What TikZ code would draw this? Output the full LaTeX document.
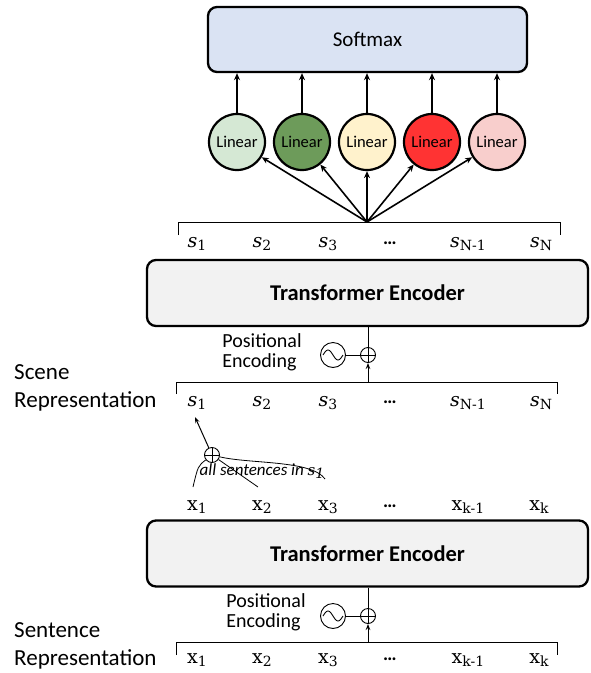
\documentclass[tikz,border=0pt]{standalone}
\usepackage{fontspec}
\setmainfont{Carlito}
\newfontfamily\symfont{DejaVu Serif}
\usetikzlibrary{arrows.meta}
\definecolor{smfill}{HTML}{DAE3F3}
\definecolor{encfill}{HTML}{F2F2F2}
\definecolor{cA}{HTML}{D5E8D4}
\definecolor{cB}{HTML}{6D9B5A}
\definecolor{cC}{HTML}{FFF2CC}
\definecolor{cD}{HTML}{FF3333}
\definecolor{cE}{HTML}{F8CECC}
\newcommand\symS[1]{{\symfont\itshape s}\raisebox{-0.35ex}{\fontsize{14}{14}\selectfont\symfont #1}}
\newcommand\symX[1]{{\symfont x}\raisebox{-0.35ex}{\fontsize{14}{14}\selectfont\symfont #1}}
\tikzset{
  bigbox/.style={draw, line width=2.3pt, rounded corners=9pt, inner sep=0pt},
  lin/.style={circle, draw, line width=2.2pt, minimum size=56pt, inner sep=0pt, font=\fontsize{16.5}{18}\selectfont},
  arr/.style={line width=1.6pt, -{Stealth[length=7pt,width=6pt]}},
  thinarr/.style={line width=1pt, -{Stealth[length=6pt,width=4.5pt]}},
  brk/.style={line width=0.9pt},
  lab/.style={font=\fontsize{19}{22}\selectfont, inner sep=0pt},
  side/.style={font=\fontsize{23}{28}\selectfont, inner sep=0pt, anchor=west, align=left},
  pe/.style={font=\fontsize{20}{20}\selectfont, inner sep=0pt, align=left},
  enc/.style={bigbox, fill=encfill, minimum width=441pt, minimum height=66pt, font=\fontsize{22.5}{24}\selectfont\bfseries},
  plus/.style={circle, draw, line width=0.9pt, minimum size=15pt, inner sep=0pt,
    path picture={\draw[line width=0.9pt] (path picture bounding box.north) -- (path picture bounding box.south)
      (path picture bounding box.west) -- (path picture bounding box.east);}},
  sine/.style={circle, draw, line width=0.9pt, minimum size=25pt, inner sep=0pt,
    path picture={\draw[line width=0.9pt, shift={(path picture bounding box.center)}]
      plot[domain=-10:10, samples=40, smooth] (\x, {5*sin(\x*18)});}},
}
\begin{document}
\begin{tikzpicture}[x=1pt, y=-1pt]
\useasboundingbox (0,0) rectangle (590,673);

% Softmax
\node[bigbox, fill=smfill, minimum width=319pt, minimum height=65pt, font=\fontsize{21}{24}\selectfont] (sm) at (367.5,39.5) {Softmax};

% Linear circles
\node[lin, fill=cA] (l1) at (237,142) {Linear};
\node[lin, fill=cB] (l2) at (302,142) {Linear};
\node[lin, fill=cC] (l3) at (367,142) {Linear};
\node[lin, fill=cD] (l4) at (432,142) {Linear};
\node[lin, fill=cE] (l5) at (497,142) {Linear};
\foreach \i in {1,...,5} {
  \draw[arr] (l\i.north) -- (l\i.north |- sm.south);
}

% top bracket and fan
\coordinate (fan) at (367,222);
\draw[brk] (178,235) -- (178,222) -- (560,222) -- (560,235);
\foreach \i in {1,...,5} {
  \draw[arr] (fan) -- (l\i);
}

% top s labels
\node[lab] (ta1) at (197,244) {\symS{1}};
\node[lab] (ta2) at (262,244) {\symS{2}};
\node[lab] (ta3) at (328,244) {\symS{3}};
\node[lab] (ta4) at (390,243) {\textbf{…}};
\node[lab] (ta5) at (468,244) {\symS{N-1}};
\node[lab] (ta6) at (541,244) {\symS{N}};

% Encoder 1
\node[enc] (enc1) at (367.5,293) {Transformer Encoder};

% Positional encoding 1
\node[pe] (pe1) at (262,352) {Positional\\Encoding};
\node[sine] (sn1) at (333,355) {};
\node[plus] (pl1) at (368,355) {};
\draw[line width=0.9pt] (sn1) -- (pl1);
\draw[line width=1pt] (pl1.north) -- (pl1.north |- enc1.south);
\coordinate (b2) at (368,382);
\draw[thinarr] (b2) -- (pl1.south);

% second bracket
\draw[brk] (176,394) -- (176,382) -- (557,382) -- (557,394);
\node[side] (scene) at (14,388) {Scene\\Representation};
\node[lab] (sb1) at (197,403) {\symS{1}};
\node[lab] (sb2) at (262,403) {\symS{2}};
\node[lab] (sb3) at (328,403) {\symS{3}};
\node[lab] (sb4) at (390,402) {\textbf{…}};
\node[lab] (sb5) at (468,403) {\symS{N-1}};
\node[lab] (sb6) at (541,403) {\symS{N}};

% aggregation
\node[plus] (p3) at (212,455) {};
\coordinate (t1) at (195,417);
\draw[thinarr] (p3) -- (t1);
\coordinate (e1) at (193,487);
\coordinate (e2) at (258,487);
\coordinate (e3) at (325,479);
\draw[line width=0.8pt] (p3) .. controls (198,466) .. (e1);
\draw[line width=0.8pt] (p3) -- (e2);
\draw[line width=0.8pt] (p3) .. controls (250,464) and (312,460) .. (e3);
\node[inner sep=0pt, font=\fontsize{17}{19}\selectfont\itshape] (all) at (262,471) {all sentences in {\fontsize{15}{15}\selectfont\symS{1}}};

% middle x labels
\node[lab] (xa1) at (197,507) {\symX{1}};
\node[lab] (xa2) at (262,507) {\symX{2}};
\node[lab] (xa3) at (328,507) {\symX{3}};
\node[lab] (xa4) at (390,506) {\textbf{…}};
\node[lab] (xa5) at (468,507) {\symX{k-1}};
\node[lab] (xa6) at (539,507) {\symX{k}};

% Encoder 2
\node[enc] (enc2) at (367.5,553.5) {Transformer Encoder};

% Positional encoding 2
\node[pe] (pe2) at (266,612) {Positional\\Encoding};
\node[sine] (sn2) at (333,616) {};
\node[plus] (pl2) at (368,616) {};
\draw[line width=0.9pt] (sn2) -- (pl2);
\draw[line width=1pt] (pl2.north) -- (pl2.north |- enc2.south);
\coordinate (b3) at (368,642);
\draw[thinarr] (b3) -- (pl2.south);

% bottom bracket
\draw[brk] (176,655) -- (176,642) -- (557,642) -- (557,655);
\node[side] (sent) at (14,646) {Sentence\\Representation};
\node[lab] (xb1) at (197,660) {\symX{1}};
\node[lab] (xb2) at (262,660) {\symX{2}};
\node[lab] (xb3) at (328,660) {\symX{3}};
\node[lab] (xb4) at (390,659) {\textbf{…}};
\node[lab] (xb5) at (468,660) {\symX{k-1}};
\node[lab] (xb6) at (539,660) {\symX{k}};
\end{tikzpicture}
\end{document}
